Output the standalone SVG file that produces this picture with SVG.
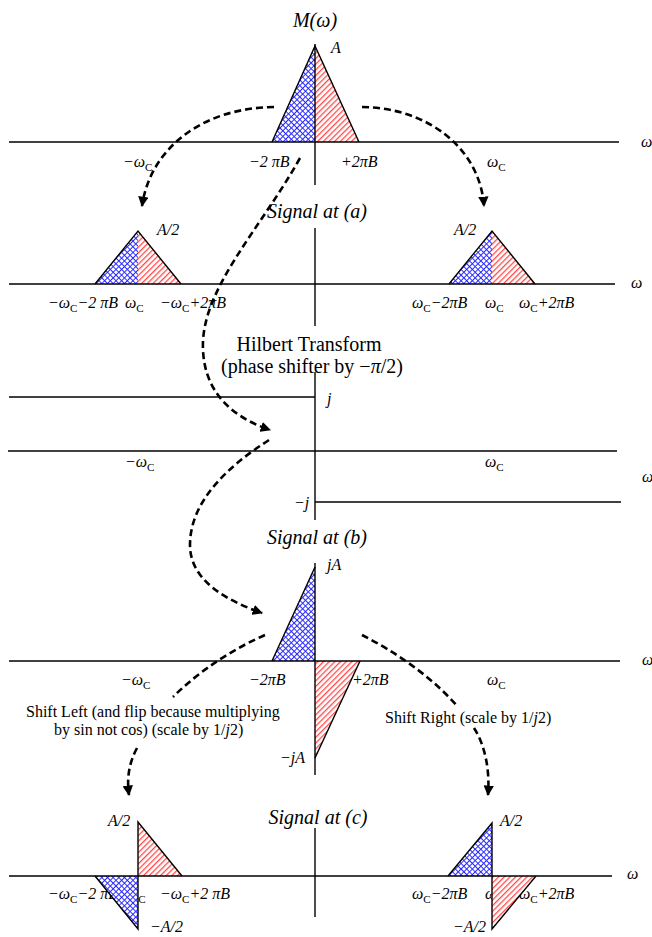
<svg xmlns="http://www.w3.org/2000/svg" width="652" height="937" viewBox="0 0 652 937">
<style>
text{font-family:"Liberation Serif","Times New Roman",serif;fill:#000}
.l{font-size:16px;font-style:italic}
.ti{font-size:20px;font-style:italic}
.rm{font-size:20px;font-style:normal}
.rs{font-size:16px;font-style:normal}
.sub{font-size:11px;font-style:normal}
.ax{stroke:#000;stroke-width:1.4;fill:none}
.ed{stroke:#000;stroke-width:1.4;fill:none;stroke-linejoin:miter}
.bl{fill:url(#hatchBlue);stroke:none}
.rd{fill:url(#hatchRed);stroke:none}
.cn{stroke:#000;stroke-width:2.6;fill:none;stroke-dasharray:7 4}
</style>
<defs>
<pattern id="hatchBlue" patternUnits="userSpaceOnUse" width="4" height="4" patternTransform="rotate(45)">
<rect width="4" height="4" fill="#ffffff"/>
<rect x="0" y="0" width="1" height="4" fill="#2b2bff"/>
<rect x="0" y="0" width="4" height="1" fill="#2b2bff"/>
</pattern>
<pattern id="hatchRed" patternUnits="userSpaceOnUse" width="4" height="4" patternTransform="rotate(45)">
<rect width="4" height="4" fill="#ffffff"/>
<rect x="0" y="0" width="1.3" height="4" fill="#ff4a4a"/>
</pattern>
<marker id="ah" viewBox="0 0 10 10" refX="9" refY="5" markerWidth="4" markerHeight="4" orient="auto" markerUnits="strokeWidth">
<path d="M0,0 L10,5 L0,10 Z" fill="#000"/>
</marker>
</defs>
<rect width="652" height="937" fill="#fff"/>

<g id="panel-message">
<text class="ti" x="315" y="27" text-anchor="middle">M(ω)</text>
<text class="l" x="331" y="53">A</text>
<text class="l" x="641" y="147">ω</text>
<text class="l" x="123" y="167">−ω<tspan class="sub" dy="4">C</tspan></text>
<text class="l" x="249" y="167">−2 πB</text>
<text class="l" x="341" y="167">+2πB</text>
<text class="l" x="487" y="167">ω<tspan class="sub" dy="4">C</tspan></text>
<polygon class="bl" points="272,142 315,46 315,142"/>
<polygon class="rd" points="315,46 359,142 315,142"/>
<line class="ax" x1="9" y1="142" x2="619" y2="142"/>
<line class="ax" x1="315" y1="44" x2="315" y2="185"/>
<polyline class="ed" points="272,142 315,46 359,142"/>
</g>

<g id="panel-a">
<text class="ti" x="317" y="218" text-anchor="middle">Signal at (a)</text>
<text class="l" x="157" y="235">A/2</text>
<text class="l" x="454" y="235">A/2</text>
<text class="l" x="631" y="288">ω</text>
<text class="l" x="48" y="308">−ω<tspan class="sub" dy="4">C</tspan><tspan dy="-4">−2 πB</tspan></text>
<text class="l" x="125" y="308">ω<tspan class="sub" dy="4">C</tspan></text>
<text class="l" x="160" y="308">−ω<tspan class="sub" dy="4">C</tspan><tspan dy="-4">+2πB</tspan></text>
<text class="l" x="412" y="308">ω<tspan class="sub" dy="4">C</tspan><tspan dy="-4">−2πB</tspan></text>
<text class="l" x="485" y="308">ω<tspan class="sub" dy="4">C</tspan></text>
<text class="l" x="519" y="308">ω<tspan class="sub" dy="4">C</tspan><tspan dy="-4">+2πB</tspan></text>
<polygon class="bl" points="95,284 138,231 138,284"/>
<polygon class="rd" points="138,231 181,284 138,284"/>
<polygon class="bl" points="449,284 492,231 492,284"/>
<polygon class="rd" points="492,231 535,284 492,284"/>
<line class="ax" x1="9" y1="284" x2="615" y2="284"/>
<line class="ax" x1="315" y1="228" x2="315" y2="326"/>
<polyline class="ed" points="95,284 138,231 181,284"/>
<polyline class="ed" points="449,284 492,231 535,284"/>
</g>

<g id="panel-hilbert">
<text class="rm" x="309" y="351" text-anchor="middle">Hilbert Transform</text>
<text class="rm" x="312" y="373" text-anchor="middle">(phase shifter by −<tspan font-style="italic">π</tspan>/2)</text>
<text class="l" x="327" y="404">j</text>
<text class="l" x="294" y="508">−j</text>
<text class="l" x="125" y="467">−ω<tspan class="sub" dy="4">C</tspan></text>
<text class="l" x="485" y="467">ω<tspan class="sub" dy="4">C</tspan></text>
<text class="l" x="642" y="482">ω</text>
<line class="ax" x1="9" y1="397" x2="315" y2="397"/>
<line class="ax" x1="8" y1="451" x2="617" y2="451"/>
<line class="ax" x1="315" y1="502" x2="621" y2="502"/>
<line class="ax" x1="315" y1="372" x2="315" y2="520"/>
</g>

<g id="panel-b">
<text class="ti" x="317" y="544" text-anchor="middle">Signal at (b)</text>
<text class="l" x="327" y="570">jA</text>
<text class="l" x="280" y="763">−jA</text>
<text class="l" x="642" y="665">ω</text>
<text class="l" x="121" y="685">−ω<tspan class="sub" dy="4">C</tspan></text>
<text class="l" x="249" y="685">−2πB</text>
<text class="l" x="352" y="685">+2πB</text>
<text class="l" x="487" y="685">ω<tspan class="sub" dy="4">C</tspan></text>
<text class="rs" x="26" y="717">Shift Left (and flip because multiplying</text>
<text class="rs" x="54" y="735">by sin not cos) (scale by 1/<tspan font-style="italic">j</tspan>2)</text>
<text class="rs" x="385" y="723">Shift Right (scale by 1/<tspan font-style="italic">j</tspan>2)</text>
<polygon class="bl" points="272,661 315,567 315,661"/>
<polygon class="rd" points="315,661 360,661 315,758"/>
<line class="ax" x1="9" y1="661" x2="620" y2="661"/>
<line class="ax" x1="315" y1="563" x2="315" y2="775"/>
<polyline class="ed" points="272,661 315,567"/>
<polyline class="ed" points="360,661 315,758"/>
</g>

<g id="panel-c">
<text class="ti" x="318" y="824" text-anchor="middle">Signal at (c)</text>
<text class="l" x="108" y="826">A/2</text>
<text class="l" x="500" y="826">A/2</text>
<text class="l" x="150" y="932">−A/2</text>
<text class="l" x="453" y="932">−A/2</text>
<text class="l" x="627" y="879">ω</text>
<text class="l" x="48" y="899">−ω<tspan class="sub" dy="4">C</tspan><tspan dy="-4">−2 πB</tspan></text>
<text class="l" x="127" y="899">ω<tspan class="sub" dy="4">C</tspan></text>
<text class="l" x="160" y="899">−ω<tspan class="sub" dy="4">C</tspan><tspan dy="-4">+2 πB</tspan></text>
<text class="l" x="412" y="899">ω<tspan class="sub" dy="4">C</tspan><tspan dy="-4">−2πB</tspan></text>
<text class="l" x="485" y="899">ω<tspan class="sub" dy="4">C</tspan></text>
<text class="l" x="519" y="899">ω<tspan class="sub" dy="4">C</tspan><tspan dy="-4">+2πB</tspan></text>
<polygon class="rd" points="138,822 182,876 138,876"/>
<polygon class="bl" points="95,876 138,876 138,929"/>
<polygon class="bl" points="448,876 492,823 492,876"/>
<polygon class="rd" points="492,876 536,876 492,929"/>
<line class="ax" x1="9" y1="876" x2="612" y2="876"/>
<line class="ax" x1="315" y1="828" x2="315" y2="917"/>
<polyline class="ed" points="182,876 138,822 138,929 95,876"/>
<polyline class="ed" points="448,876 492,823 492,929 536,876"/>
</g>

<g id="connectors">
<path class="cn" d="M274,107 C200,108 150,150 142,206" marker-end="url(#ah)"/>
<path class="cn" d="M362,107 C430,108 480,150 484,206" marker-end="url(#ah)"/>
<path class="cn" d="M300,158 C260,230 200,290 203,350 C205,395 235,418 270,430" marker-end="url(#ah)"/>
<path class="cn" d="M269,440 C230,465 190,500 190,545 C190,580 225,600 262,613" marker-end="url(#ah)"/>
<path class="cn" d="M265,635 C235,648 200,670 173,697"/>
<path class="cn" d="M137,748 C128,765 127,780 129,795" marker-end="url(#ah)"/>
<path class="cn" d="M362,635 C395,652 430,675 458,707"/>
<path class="cn" d="M474,728 C485,745 490,770 488,795" marker-end="url(#ah)"/>
</g>
</svg>
